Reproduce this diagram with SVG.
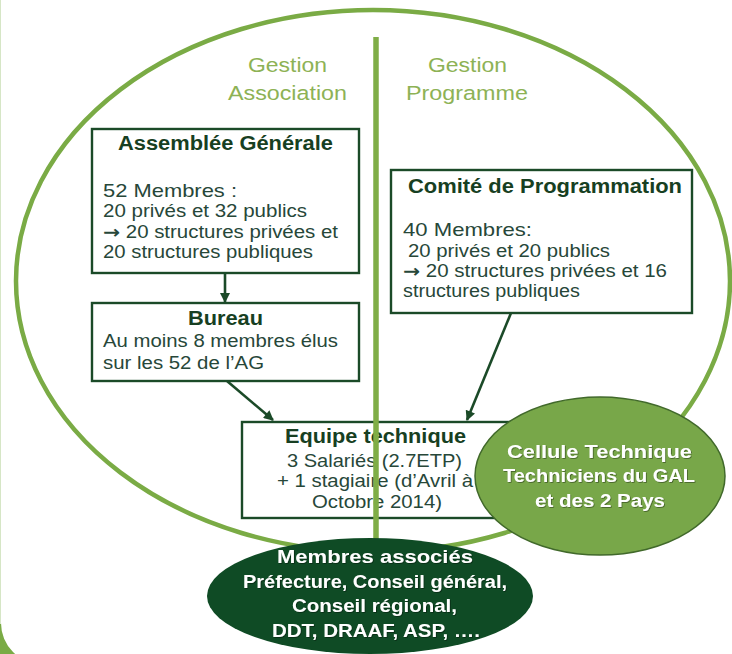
<svg xmlns="http://www.w3.org/2000/svg" width="732" height="654" viewBox="0 0 732 654">
<defs>
<style>
text{font-family:"Liberation Sans",Arial,sans-serif}
.g{font-size:20.5px;fill:#8db255}
.t{font-size:19.5px;font-weight:bold;fill:#173f22}
.b{font-size:17.5px;fill:#274739}
.w{font-size:18px;font-weight:bold;fill:#ffffff}
.ar{font-family:"DejaVu Sans",sans-serif;font-weight:bold}
.box{fill:#ffffff;stroke:#1b4a28;stroke-width:2.4}
.con{stroke:#1b4a28;stroke-width:2.6;fill:none}
</style>
<marker id="ah" viewBox="0 0 10 10" refX="9" refY="5" markerWidth="11" markerHeight="10" markerUnits="userSpaceOnUse" orient="auto">
<path d="M0,0 L10,5 L0,10 Z" fill="#1b4a28"/>
</marker>
<filter id="sh" x="-10%" y="-20%" width="120%" height="140%">
<feDropShadow dx="0.8" dy="0.8" stdDeviation="0.4" flood-color="#000" flood-opacity="0.45"/>
</filter>
</defs>
<rect x="0" y="0" width="732" height="654" fill="#ffffff"/>
<path d="M1,623 A41,41 0 0 0 42,664 L0,664 L0,623 Z" fill="#7aab45"/>
<line x1="0.5" y1="0" x2="0.5" y2="624" stroke="#d6e6c6" stroke-width="1"/>

<g id="frame">
<ellipse cx="373" cy="281" rx="357" ry="271" fill="none" stroke="#7aab45" stroke-width="4.5"/>
</g>

<g id="titles">
<text class="g" x="248" y="72" textLength="79" lengthAdjust="spacingAndGlyphs">Gestion</text>
<text class="g" x="228" y="100" textLength="119" lengthAdjust="spacingAndGlyphs">Association</text>
<text class="g" x="428" y="72" textLength="79" lengthAdjust="spacingAndGlyphs">Gestion</text>
<text class="g" x="406" y="100" textLength="122" lengthAdjust="spacingAndGlyphs">Programme</text>
</g>

<g id="ag">
<rect class="box" x="92" y="129" width="267" height="144"/>
<text class="t" x="118" y="150" textLength="215" lengthAdjust="spacingAndGlyphs">Assemblée Générale</text>
<text class="b" x="103" y="197" textLength="134" lengthAdjust="spacingAndGlyphs" style="font-size:18.5px">52 Membres :</text>
<text class="b" x="103" y="217" textLength="204" lengthAdjust="spacingAndGlyphs">20 privés et 32 publics</text>
<text class="b" x="103" y="238" textLength="235" lengthAdjust="spacingAndGlyphs"><tspan class="ar">→</tspan> 20 structures privées et</text>
<text class="b" x="103" y="258" textLength="210" lengthAdjust="spacingAndGlyphs">20 structures publiques</text>
</g>

<g id="bureau">
<rect class="box" x="92" y="303" width="267" height="78"/>
<text class="t" x="188" y="325" textLength="75" lengthAdjust="spacingAndGlyphs">Bureau</text>
<text class="b" x="103" y="347" textLength="235" lengthAdjust="spacingAndGlyphs">Au moins 8 membres élus</text>
<text class="b" x="103" y="369" textLength="161" lengthAdjust="spacingAndGlyphs">sur les 52 de l’AG</text>
</g>

<g id="comite">
<rect class="box" x="391" y="170" width="301" height="143"/>
<text class="t" x="408" y="193" textLength="274" lengthAdjust="spacingAndGlyphs">Comité de Programmation</text>
<text class="b" x="403" y="236" textLength="129" lengthAdjust="spacingAndGlyphs" style="font-size:18.5px">40 Membres:</text>
<text class="b" x="408" y="257" textLength="202" lengthAdjust="spacingAndGlyphs">20 privés et 20 publics</text>
<text class="b" x="403" y="277" textLength="264" lengthAdjust="spacingAndGlyphs"><tspan class="ar">→</tspan> 20 structures privées et 16</text>
<text class="b" x="403" y="297" textLength="177" lengthAdjust="spacingAndGlyphs">structures publiques</text>
</g>

<g id="equipe">
<rect class="box" x="242" y="422" width="270" height="96"/>
<text class="t" x="285" y="443" textLength="181" lengthAdjust="spacingAndGlyphs">Equipe technique</text>
<text class="b" x="287" y="467" textLength="175" lengthAdjust="spacingAndGlyphs">3 Salariés (2.7ETP)</text>
<text class="b" x="277" y="487" textLength="196" lengthAdjust="spacingAndGlyphs">+ 1 stagiaire (d’Avril à</text>
<text class="b" x="312" y="508" textLength="130" lengthAdjust="spacingAndGlyphs">Octobre 2014)</text>
</g>

<g id="divider">
<line x1="376" y1="37" x2="376" y2="545" stroke="#7fad46" stroke-width="5.5"/>
</g>

<g id="connectors">
<line class="con" x1="225" y1="273" x2="225" y2="302" marker-end="url(#ah)"/>
<line class="con" x1="227" y1="381" x2="273" y2="420" marker-end="url(#ah)"/>
<line class="con" x1="511" y1="313" x2="467" y2="420" marker-end="url(#ah)"/>
</g>

<g id="cellule">
<ellipse cx="600" cy="476" rx="125" ry="79" fill="#78a749" stroke="#41692b" stroke-width="1.5"/>
<g filter="url(#sh)">
<text class="w" x="507" y="458" textLength="185" lengthAdjust="spacingAndGlyphs">Cellule Technique</text>
<text class="w" x="503" y="482" textLength="192" lengthAdjust="spacingAndGlyphs">Techniciens du GAL</text>
<text class="w" x="535" y="507" textLength="130" lengthAdjust="spacingAndGlyphs">et des 2 Pays</text>
</g>
</g>

<g id="membres">
<ellipse cx="370" cy="596" rx="163" ry="58" fill="#0f4b25"/>
<g filter="url(#sh)">
<text class="w" x="277" y="563" textLength="196" lengthAdjust="spacingAndGlyphs">Membres associés</text>
<text class="w" x="243" y="588" textLength="264" lengthAdjust="spacingAndGlyphs">Préfecture, Conseil général,</text>
<text class="w" x="292" y="612" textLength="165" lengthAdjust="spacingAndGlyphs">Conseil régional,</text>
<text class="w" x="272" y="637" textLength="208" lengthAdjust="spacingAndGlyphs">DDT, DRAAF, ASP, ….</text>
</g>
</g>
</svg>
